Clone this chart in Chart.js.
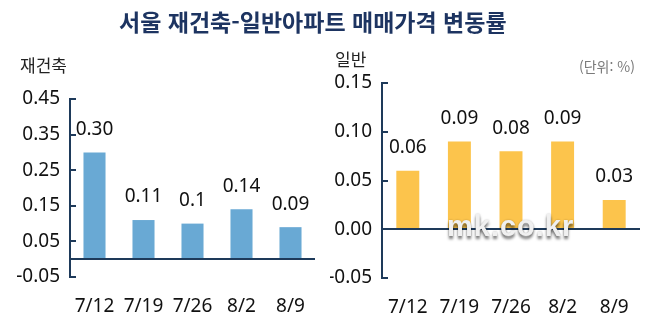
<!DOCTYPE html>
<html lang="ko">
<head>
<meta charset="utf-8">
<script src="https://cdn.jsdelivr.net/npm/chart.js@4/dist/chart.umd.min.js"></script>
<style>
  html, body { margin: 0; padding: 0; background: #fff; }
  #wrap { position: relative; width: 658px; height: 327px; overflow: hidden; background: #fff; }
  canvas { position: absolute; top: 0; }
  .txt { position: absolute; line-height: 1; white-space: nowrap; font-family: 'Noto Sans CJK KR', sans-serif; }
  #title { left: 119px; top: 10px; font-size: 23px; font-weight: 700; color: #1d3461; }
  #lblA { left: 20px; top: 56px; font-size: 17px; color: #222; }
  #lblB { left: 335px; top: 50px; font-size: 17px; color: #222; }
  #unit { left: 579px; top: 59px; font-size: 14px; color: #7a7a7a; }
  #mark { left: 447px; top: 212px; font-family: 'Liberation Sans', Arial, sans-serif; font-size: 29px; font-weight: 700;
          color: #f0f0f0; letter-spacing: 1px; text-shadow: 0 3px 3px rgba(0,0,0,0.55), 0 0 2px rgba(0,0,0,0.25); }
</style>
</head>
<body>
<div id="wrap">
  <canvas id="cA" width="330" height="327" style="left:0px"></canvas>
  <canvas id="cB" width="328" height="327" style="left:330px"></canvas>
  <div class="txt" id="title">서울 재건축-일반아파트 매매가격 변동률</div>
  <div class="txt" id="lblA">재건축</div>
  <div class="txt" id="lblB">일반</div>
  <div class="txt" id="unit">(단위: %)</div>
  <div class="txt" id="mark">mk.co.kr</div>
</div>
<script>
// Weekly price change (%) of Seoul apartments
const weeks = ['7/12', '7/19', '7/26', '8/2', '8/9'];

// Reconstruction apartments
const rebuildValues = [0.30, 0.11, 0.1, 0.14, 0.09];
const rebuildLabels = ['0.30', '0.11', '0.1', '0.14', '0.09'];
const rebuildTicks = [-0.05, 0.05, 0.15, 0.25, 0.35, 0.45];

// General apartments
const generalValues = [0.06, 0.09, 0.08, 0.09, 0.03];
const generalLabels = ['0.06', '0.09', '0.08', '0.09', '0.03'];
const generalTicks = [-0.05, 0, 0.05, 0.10, 0.15];

const AXIS = '#1e3a5a';
const NUM_FONT = { family: "'Noto Sans', 'Liberation Sans', sans-serif", size: 19 };

// Zero line, inward tick marks and value labels above each bar
const decor = {
  id: 'decor',
  afterDatasetsDraw(chart, args, opts) {
    const { ctx, chartArea, scales } = chart;
    const y = scales.y;
    ctx.save();
    ctx.strokeStyle = AXIS;
    ctx.lineWidth = 2;
    const y0 = Math.round(y.getPixelForValue(0));
    ctx.beginPath();
    ctx.moveTo(chartArea.left, y0);
    ctx.lineTo(chartArea.right, y0);
    ctx.stroke();
    ctx.beginPath();
    y.ticks.forEach(t => {
      const py = Math.round(y.getPixelForValue(t.value));
      ctx.moveTo(chartArea.left, py);
      ctx.lineTo(chartArea.left + 6, py);
    });
    ctx.stroke();
    ctx.fillStyle = '#111';
    ctx.font = `${NUM_FONT.size}px ${NUM_FONT.family}`;
    ctx.textAlign = 'center';
    ctx.textBaseline = 'middle';
    chart.getDatasetMeta(0).data.forEach((bar, i) => {
      ctx.fillText(opts.labels[i], bar.x, bar.y - 23);
    });
    ctx.restore();
  }
};

function makeChart(id, values, labels, ticks, color, pad, xHeight, yWidth, barPct) {
  return new Chart(document.getElementById(id), {
    type: 'bar',
    data: {
      labels: weeks,
      datasets: [{ data: values, backgroundColor: color, borderWidth: 0,
                   barPercentage: barPct, categoryPercentage: 1 }]
    },
    options: {
      responsive: false,
      animation: false,
      devicePixelRatio: 1,
      layout: { padding: pad },
      plugins: { legend: { display: false }, tooltip: { enabled: false }, decor: { labels } },
      scales: {
        x: {
          grid: { display: false, drawTicks: false },
          border: { display: false },
          ticks: { color: '#111', font: NUM_FONT, padding: 18, maxRotation: 0, autoSkip: false },
          afterFit(s) { s.height = xHeight; }
        },
        y: {
          min: ticks[0],
          max: ticks[ticks.length - 1],
          grid: { display: false, drawTicks: false },
          border: { display: true, color: AXIS, width: 2 },
          afterBuildTicks(s) { s.ticks = ticks.map(v => ({ value: v })); },
          ticks: { color: '#111', font: NUM_FONT, padding: 10, callback: v => Number(v).toFixed(2) },
          afterFit(s) { s.width = yWidth; }
        }
      }
    },
    plugins: [decor]
  });
}

makeChart('cA', rebuildValues, rebuildLabels, rebuildTicks, '#69a9d4',
  { top: 99, right: 15, bottom: 0, left: 0 }, 50, 70, 0.45);
makeChart('cB', generalValues, generalLabels, generalTicks, '#fcc44c',
  { top: 83, right: 18, bottom: 0, left: 0 }, 49, 52, 0.445);
</script>
</body>
</html>
